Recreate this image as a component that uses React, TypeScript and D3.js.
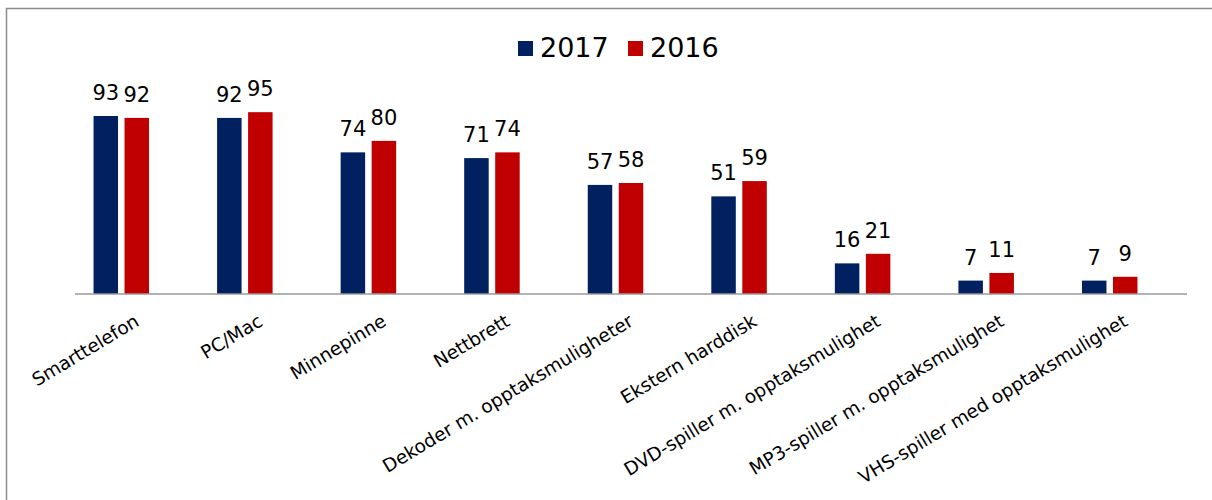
import React from "react";
import * as d3 from "d3";

const categories = [
  "Smarttelefon",
  "PC/Mac",
  "Minnepinne",
  "Nettbrett",
  "Dekoder m. opptaksmuligheter",
  "Ekstern harddisk",
  "DVD-spiller m. opptaksmulighet",
  "MP3-spiller m. opptaksmulighet",
  "VHS-spiller med opptaksmulighet",
];
const series = ["2017", "2016"];
const values2017 = [93, 92, 74, 71, 57, 51, 16, 7, 7];
const values2016 = [92, 95, 80, 74, 58, 59, 21, 11, 9];
const colors = ["#00205F", "#C00000"];

const W = 1212;
const H = 500;
const FONT = "'DejaVu Sans', Verdana, sans-serif";

export default function App() {
  const x0 = d3.scaleBand<string>().domain(categories).range([75, 1187]).padding(0);
  // three slots per category (third empty), as in the source chart
  const slots = [...series, "_"];
  const groupW = 86.5;
  const x1 = d3
    .scaleBand<string>()
    .domain(slots)
    .range([-groupW / 2, groupW / 2])
    .paddingInner(0.21);
  const y = d3.scaleLinear().domain([0, 100]).range([294, 102.6]);
  const data = [values2017, values2016];

  return (
    <div style={{ position: "absolute", left: 0, top: 0 }}>
      <svg width={W} height={H} style={{ display: "block", background: "#fff" }}>
        <rect x={6.5} y={8.5} width={1240} height={540} fill="none" stroke="#8c8c8c" strokeWidth={1.5} />
        {/* legend */}
        {series.map((s, i) => (
          <g key={s} transform={`translate(${518 + i * 110},0)`}>
            <rect x={0} y={41} width={15} height={15} fill={colors[i]} />
            <text x={22} y={57} fontFamily={FONT} fontSize={27} fill="#000">
              {s}
            </text>
          </g>
        ))}
        {/* bars */}
        {categories.map((c, ci) => {
          const cx = (x0(c) as number) + x0.bandwidth() / 2;
          return (
            <g key={c}>
              {series.map((s, si) => {
                const v = data[si][ci];
                const bx = cx + (x1(s) as number);
                const bw = x1.bandwidth();
                return (
                  <g key={s}>
                    <rect x={bx} y={y(v)} width={bw} height={y(0) - y(v)} fill={colors[si]} />
                    <text
                      x={bx + bw / 2}
                      y={y(v) - 16}
                      textAnchor="middle"
                      fontFamily={FONT}
                      fontSize={21}
                      fill="#000"
                    >
                      {v}
                    </text>
                  </g>
                );
              })}
              <text
                transform={`translate(${cx - 4},312) rotate(-31)`}
                textAnchor="end"
                dy="0.8em"
                fontFamily={FONT}
                fontSize={18.5}
                fill="#000"
              >
                {c}
              </text>
            </g>
          );
        })}
        <line x1={75} x2={1187} y1={294} y2={294} stroke="#9a9a9a" strokeWidth={1.6} />
      </svg>
    </div>
  );
}
